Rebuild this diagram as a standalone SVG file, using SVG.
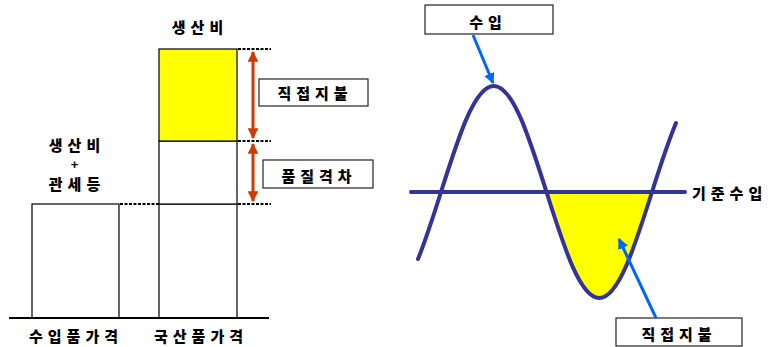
<svg xmlns="http://www.w3.org/2000/svg" width="770" height="347" viewBox="0 0 770 347">
<style>
text{font-family:"Noto Sans CJK KR","Noto Sans",sans-serif;font-weight:900;font-size:15px;fill:#000;letter-spacing:5px}
.c{text-anchor:middle}
.plus{font-family:"Liberation Sans",Arial,sans-serif;font-weight:bold;font-size:13px;letter-spacing:0}
.box{fill:#fff;stroke:#222;stroke-width:1.2}
.col{fill:#fff;stroke:#000;stroke-width:1.2}
.dot{stroke:#000;stroke-width:2;stroke-dasharray:3 1.5;fill:none}
.red{stroke:#D03A00;stroke-width:3;fill:none;marker-start:url(#rh);marker-end:url(#rh)}
.blue{stroke:#0066FF;stroke-width:3;fill:none;marker-end:url(#bh)}
.wave{stroke:#333399;stroke-width:4;fill:none;stroke-linecap:round}
</style>
<defs>
<marker id="rh" viewBox="0 0 10 10" refX="9" refY="5" markerWidth="3.6" markerHeight="3.6" orient="auto-start-reverse" markerUnits="strokeWidth"><path d="M0,0L10,5L0,10Z" fill="#D03A00"/></marker>
<marker id="bh" viewBox="0 0 10 10" refX="9" refY="5" markerWidth="3.6" markerHeight="3.6" orient="auto" markerUnits="strokeWidth"><path d="M0,0L10,5L0,10Z" fill="#0066FF"/></marker>
</defs>
<g id="left-chart">
<g id="import-bar"><rect class="col" x="32" y="204" width="87" height="114"/></g>
<g id="domestic-bar">
<rect class="col" x="159" y="204" width="78" height="114"/>
<rect class="col" x="159" y="141" width="78" height="63"/>
<rect x="159" y="49" width="78" height="92" fill="#FFFF00" stroke="#000" stroke-width="1.2"/>
</g>
<line x1="9" y1="318" x2="269" y2="318" stroke="#000" stroke-width="2"/>
</g>
<g id="right-chart">
<path d="M546.5,192 C564.13,247.66 580.1,298 599.25,298 C618.4,298 634.37,247.66 652,192 Z" fill="#FFFF00"/>
<line class="wave" x1="411" y1="192" x2="685" y2="192"/>
<path class="wave" d="M418,259 C425.67,240.3 433.33,216.2 441,192 C458.63,136.34 474.6,86 493.75,86 C512.9,86 528.87,136.34 546.5,192 C564.13,247.66 580.1,298 599.25,298 C618.4,298 634.37,247.66 652,192 C660,166.74 668,142.05 676,123"/>
</g>
<g id="label-cost-top"><text class="c" x="200" y="33">생산비</text></g>
<g id="label-cost-left">
<text class="c" x="77" y="151">생산비</text>
<text class="c plus" x="74.5" y="169">+</text>
<text class="c" x="77" y="190">관세등</text>
</g>
<g id="label-import-price"><text class="c" x="76" y="342">수입품가격</text></g>
<g id="label-domestic-price"><text class="c" x="201" y="342">국산품가격</text></g>
<g id="box-direct-1"><rect class="box" x="259" y="79" width="109" height="27"/><text class="c" x="315" y="99">직접지불</text></g>
<g id="box-quality"><rect class="box" x="263" y="160" width="110" height="28"/><text class="c" x="319" y="182">품질격차</text></g>
<g id="label-base"><text x="692" y="199">기준수입</text></g>
<g id="box-income"><rect class="box" x="425" y="5" width="128" height="29"/><text class="c" x="488" y="28">수입</text></g>
<g id="box-direct-2"><rect class="box" x="616" y="318" width="126" height="28"/><text class="c" x="679" y="340">직접지불</text></g>
<g id="connectors">
<line class="dot" x1="120" y1="204" x2="159" y2="204"/>
<line class="dot" x1="238" y1="49" x2="271" y2="49"/>
<line class="dot" x1="238" y1="141" x2="271" y2="141"/>
<line class="dot" x1="238" y1="204" x2="271" y2="204"/>
<line class="red" x1="253" y1="52" x2="253" y2="138"/>
<line class="red" x1="253" y1="144" x2="253" y2="201"/>
<line class="blue" x1="473" y1="35" x2="493" y2="83"/>
<line class="blue" x1="656" y1="318" x2="619" y2="239"/>
</g>
</svg>
